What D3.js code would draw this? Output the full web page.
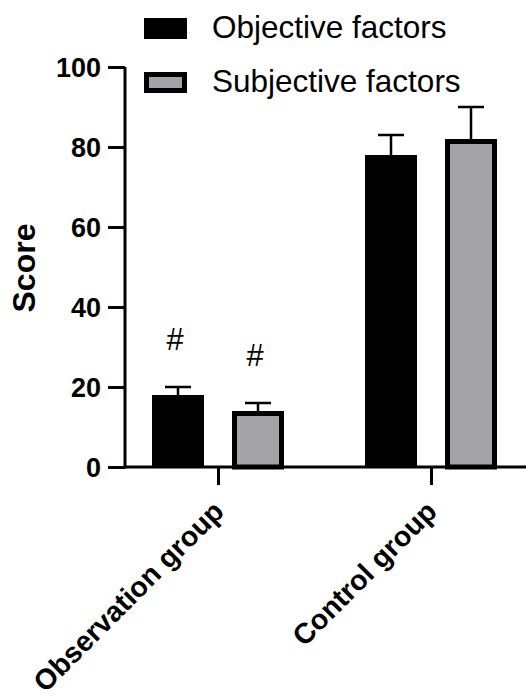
<!DOCTYPE html>
<html>
  <head>
    <script src="https://d3js.org/d3.v7.min.js" charset="utf-8"></script>
    <meta charset="UTF-8">
    <title>score bar chart</title>
    <style>
      body { margin: 0; background: #fff; }
      text { font-family: "Liberation Sans", Arial, sans-serif; fill: #000; }
    </style>
  </head>
  <body>
    <svg class="chart"></svg>
    <script type="text/javascript">

     var width = 526,
         height = 696;

     // data
     var groups = ["Observation group", "Control group"];
     var series = ["Objective factors", "Subjective factors"];
     var means = [[18, 14], [78, 82]];
     var errors = [[2, 2], [5, 8]];
     var marks = [["#", "#"], ["", ""]];
     var yTicks = [0, 20, 40, 60, 80, 100];

     var colors = ["#000000", "#a3a2a7"];

     var chart = d3.select(".chart")
                   .attr("width", width)
                   .attr("height", height);

     var y = d3.scaleLinear().domain([0, 100]).range([467, 67]);
     var x = d3.scalePoint().domain(groups).range([218, 431]);
     var xs = d3.scaleBand().domain(series).range([-66, 66]).paddingInner(0.35);

     var rows = [];
     groups.forEach(function(g, i) {
         series.forEach(function(s, j) {
             rows.push({group: g, series: s, si: j, value: means[i][j],
                        err: errors[i][j], mark: marks[i][j]});
         });
     });

     // y axis
     var yAxis = chart.append("g")
                      .attr("transform", "translate(125,0)")
                      .call(d3.axisLeft(y).tickValues(yTicks).tickSize(17).tickPadding(7));
     yAxis.select(".domain").attr("stroke-width", 3).attr("d", "M0,468.5V67");
     yAxis.selectAll(".tick line").attr("stroke-width", 3);
     yAxis.selectAll(".tick text")
          .style("font-size", "27px")
          .style("font-weight", "bold")
          .attr("dy", "0.36em");

     chart.append("text")
          .attr("transform", "translate(35,268) rotate(-90)")
          .attr("text-anchor", "middle")
          .style("font-size", "32px")
          .style("font-weight", "bold")
          .text("Score");

     // bars
     var bars = chart.append("g").attr("class", "bars");
     bars.selectAll("rect")
         .data(rows)
         .enter().append("rect")
         .attr("x", function(d) { return x(d.group) + xs(d.series) + (d.si ? 2.5 : 0); })
         .attr("y", function(d) { return y(d.value) + (d.si ? 2.5 : 0); })
         .attr("width", function(d) { return xs.bandwidth() - (d.si ? 5 : 0); })
         .attr("height", function(d) { return y(0) - y(d.value) - (d.si ? 2.5 : 0); })
         .attr("fill", function(d) { return colors[d.si]; })
         .attr("stroke", "#000")
         .attr("stroke-width", function(d) { return d.si ? 5 : 0; });

     // error bars
     var errs = chart.append("g").attr("class", "errors")
                     .attr("stroke", "#000").attr("stroke-width", 2.5);
     errs.selectAll("line.stem")
         .data(rows)
         .enter().append("line")
         .attr("class", "stem")
         .attr("x1", function(d) { return x(d.group) + xs(d.series) + xs.bandwidth() / 2; })
         .attr("x2", function(d) { return x(d.group) + xs(d.series) + xs.bandwidth() / 2; })
         .attr("y1", function(d) { return y(d.value); })
         .attr("y2", function(d) { return y(d.value + d.err); });
     errs.selectAll("line.cap")
         .data(rows)
         .enter().append("line")
         .attr("class", "cap")
         .attr("x1", function(d) { return x(d.group) + xs(d.series) + xs.bandwidth() / 2 - 13; })
         .attr("x2", function(d) { return x(d.group) + xs(d.series) + xs.bandwidth() / 2 + 13; })
         .attr("y1", function(d) { return y(d.value + d.err); })
         .attr("y2", function(d) { return y(d.value + d.err); });

     // significance marks
     chart.append("g").selectAll("text")
          .data(rows.filter(function(d) { return d.mark; }))
          .enter().append("text")
          .attr("x", function(d) { return x(d.group) + xs(d.series) + xs.bandwidth() / 2 - 3; })
          .attr("y", function(d) { return y(d.value + d.err) - 37; })
          .attr("text-anchor", "middle")
          .style("font-size", "31px")
          .text(function(d) { return d.mark; });

     // x axis
     var xAxis = chart.append("g")
                      .attr("transform", "translate(0,467)")
                      .call(d3.axisBottom(x).tickSize(18).tickSizeOuter(0));
     xAxis.select(".domain").attr("stroke-width", 3).attr("d", "M125,0H526");
     xAxis.selectAll(".tick line").attr("stroke-width", 3);
     xAxis.selectAll(".tick text")
          .style("font-size", "28.5px")
          .style("font-weight", "bold")
          .attr("text-anchor", "end")
          .attr("transform", "translate(-7,32) rotate(-45)")
          .attr("x", 0)
          .attr("y", 0)
          .attr("dy", "0.7em");

     // legend
     var legend = chart.append("g").attr("class", "legend");
     var items = legend.selectAll("g")
                       .data(series)
                       .enter().append("g")
                       .attr("transform", function(d, i) { return "translate(144," + (18 + i * 54) + ")"; });
     items.append("rect")
          .attr("x", function(d, i) { return i ? 2.5 : 0; })
          .attr("y", function(d, i) { return i ? 2.5 : 0; })
          .attr("width", function(d, i) { return i ? 38 : 43; })
          .attr("height", function(d, i) { return i ? 16 : 21; })
          .attr("fill", function(d, i) { return colors[i]; })
          .attr("stroke", "#000")
          .attr("stroke-width", function(d, i) { return i ? 5 : 0; });
     items.append("text")
          .attr("x", 68)
          .attr("y", 20)
          .style("font-size", "31.5px")
          .text(function(d) { return d; });

    </script>
  </body>
</html>
